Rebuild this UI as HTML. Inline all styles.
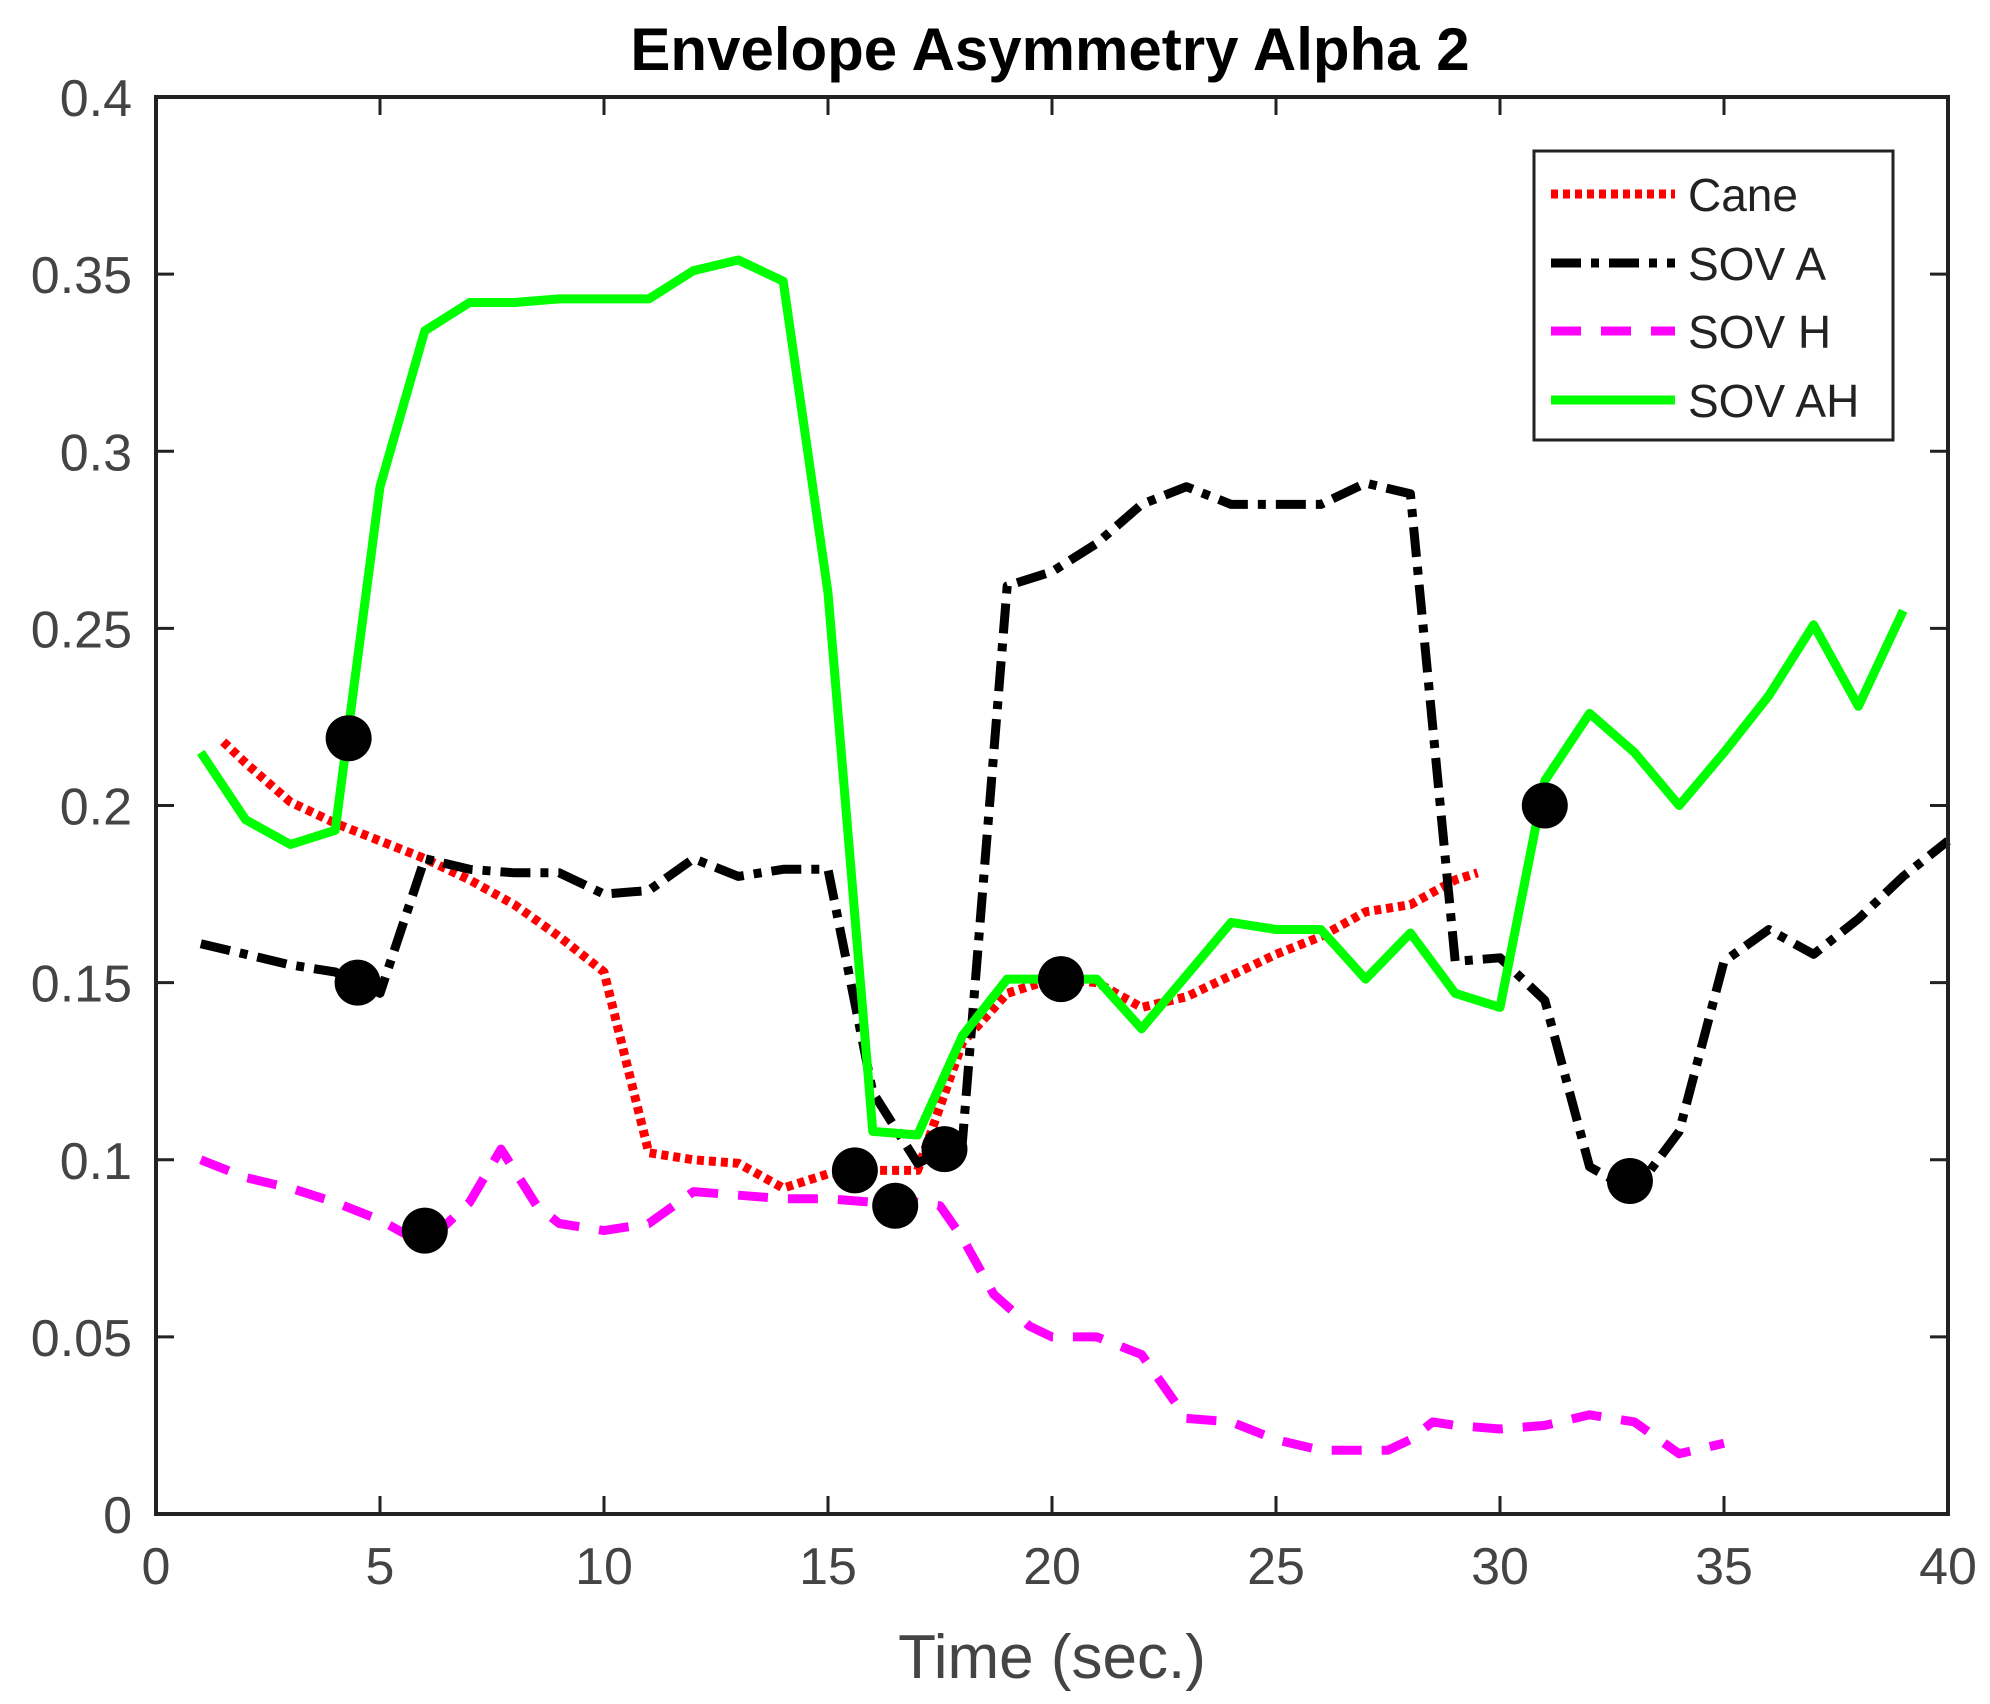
<!DOCTYPE html>
<html><head><meta charset="utf-8"><style>
body{margin:0;background:#fff;}
svg text{font-family:"Liberation Sans",Arial,sans-serif;}
</style></head><body>
<svg id="chart" width="1990" height="1699" xmlns="http://www.w3.org/2000/svg">
<rect width="1990" height="1699" fill="#fff"/>
<text x="1050" y="70" text-anchor="middle" font-size="60" font-weight="bold" fill="#000">Envelope Asymmetry Alpha 2</text>
<g id="axes"></g>
<g id="series"></g>
<g id="markers"></g>
<rect x="156" y="97" width="1792" height="1417" fill="none" stroke="#222" stroke-width="4"/>
<text x="1052" y="1678" text-anchor="middle" font-size="62" fill="#444">Time (sec.)</text>
<g>
<rect x="1534" y="151" width="359" height="289" fill="#fff" stroke="#222" stroke-width="3"/>
<g><line x1="1551" y1="194" x2="1675" y2="194" stroke="#f00" stroke-width="9" stroke-dasharray="7 5"/><text x="1688" y="211" font-size="46" fill="#222">Cane</text></g>
<g><line x1="1551" y1="263" x2="1675" y2="263" stroke="#000" stroke-width="9" stroke-dasharray="30 10 8 10"/><text x="1688" y="280" font-size="46" fill="#222">SOV A</text></g>
<g><line x1="1551" y1="331" x2="1675" y2="331" stroke="#f0f" stroke-width="9" stroke-dasharray="30 20"/><text x="1688" y="348" font-size="46" fill="#222">SOV H</text></g>
<g><line x1="1551" y1="400" x2="1675" y2="400" stroke="#0f0" stroke-width="9"/><text x="1688" y="417" font-size="46" fill="#222">SOV AH</text></g>
</g>
</svg>
<script>
const xTicks=[0,5,10,15,20,25,30,35,40];
const yTicks=[0,0.05,0.1,0.15,0.2,0.25,0.3,0.35,0.4];
const yTickLabels=["0","0.05","0.1","0.15","0.2","0.25","0.3","0.35","0.4"];
const caneX=[1.5,2,3,4,5,6,7,8,9,10,11,12,13,14,15,16,17,18,19,20,21,22,23,24,25,26,27,28,29,29.5];
const caneY=[0.218,0.212,0.201,0.195,0.19,0.185,0.179,0.172,0.163,0.153,0.102,0.1,0.099,0.092,0.096,0.097,0.097,0.133,0.147,0.151,0.15,0.143,0.146,0.152,0.158,0.163,0.17,0.172,0.179,0.181];
const sovAX=[1,2,3,4,5,6,7,8,9,10,11,12,13,14,15,16,17,18,19,20,21,22,23,24,25,26,27,28,29,30,31,32,33,34,35,36,37,38,39,40];
const sovAY=[0.161,0.158,0.155,0.153,0.147,0.185,0.182,0.181,0.181,0.175,0.176,0.185,0.18,0.182,0.182,0.119,0.099,0.105,0.262,0.266,0.274,0.285,0.29,0.285,0.285,0.285,0.291,0.288,0.156,0.157,0.145,0.098,0.091,0.108,0.156,0.165,0.158,0.168,0.18,0.19];
const sovHX=[1,2,3,4,5,6,7,7.7,8.5,9,10,11,12,13,14,15,16,17,17.5,18,18.7,19.5,20,21,22,23,24,25,26,27,27.5,28,28.5,29,30,31,32,33,34,35];
const sovHY=[0.1,0.095,0.092,0.088,0.083,0.076,0.088,0.103,0.087,0.082,0.08,0.082,0.091,0.09,0.089,0.089,0.088,0.088,0.087,0.078,0.062,0.053,0.05,0.05,0.045,0.027,0.026,0.021,0.018,0.018,0.018,0.021,0.026,0.025,0.024,0.025,0.028,0.026,0.017,0.02];
const sovAHX=[1,2,3,4,5,6,7,8,9,10,11,12,13,14,15,16,17,18,19,20,21,22,23,24,25,26,27,28,29,30,31,32,33,34,35,36,37,38,39];
const sovAHY=[0.215,0.196,0.189,0.193,0.29,0.334,0.342,0.342,0.343,0.343,0.343,0.351,0.354,0.348,0.26,0.108,0.107,0.135,0.151,0.151,0.151,0.137,0.152,0.167,0.165,0.165,0.151,0.164,0.147,0.143,0.207,0.226,0.215,0.2,0.215,0.231,0.251,0.228,0.255];
const markX=[4.3,4.5,6,15.6,16.5,17.6,20.2,31,32.9];
const markY=[0.219,0.15,0.08,0.097,0.087,0.103,0.151,0.2,0.094];

const L=156,R=1948,T=97,B=1514;
const sx=v=>L+(v-0)/(40-0)*(R-L);
const sy=v=>B-(v-0)/(0.4-0)*(B-T);
const NS="http://www.w3.org/2000/svg";
function mk(tag,attrs,parent){const e=document.createElementNS(NS,tag);for(const k in attrs)e.setAttribute(k,attrs[k]);parent.appendChild(e);return e;}
const axes=document.getElementById('axes');
xTicks.forEach(t=>{
  const g=mk('g',{},axes);
  
  
  mk('line',{x1:sx(t),x2:sx(t),y1:B,y2:B-18,stroke:'#222','stroke-width':3},g);
  mk('line',{x1:sx(t),x2:sx(t),y1:T,y2:T+18,stroke:'#222','stroke-width':3},g);
  const tx=mk('text',{x:sx(t),y:B+70,'text-anchor':'middle','font-size':52,fill:'#444'},g);tx.textContent=t;
});
yTicks.forEach((t,i)=>{
  const g=mk('g',{},axes);
  
  
  mk('line',{x1:L,x2:L+18,y1:sy(t),y2:sy(t),stroke:'#222','stroke-width':3},g);
  mk('line',{x1:R,x2:R-18,y1:sy(t),y2:sy(t),stroke:'#222','stroke-width':3},g);
  const tx=mk('text',{x:L-24,y:sy(t)+19,'text-anchor':'end','font-size':52,fill:'#444'},g);tx.textContent=yTickLabels[i];
});
const ser=document.getElementById('series');
function line(xs,ys,color,dash,name){
  const d=xs.map((x,i)=>(i?'L':'M')+sx(x).toFixed(1)+' '+sy(ys[i]).toFixed(1)).join(' ');
  const p=mk('path',{d:d,fill:'none',stroke:color,'stroke-width':9,'stroke-linejoin':'round'},ser);
  if(dash)p.setAttribute('stroke-dasharray',dash);
  
  
}
line(caneX,caneY,'#f00','7 5','cane-line');
line(sovAX,sovAY,'#000','30 10 8 10','sov-a-line');
line(sovHX,sovHY,'#f0f','30 20','sov-h-line');
line(sovAHX,sovAHY,'#0f0',null,'sov-ah-line');
const mg=document.getElementById('markers');
markX.forEach((x,i)=>{
  const c=mk('circle',{cx:sx(x),cy:sy(markY[i]),r:23,fill:'#000'},mg);
  
  
});
</script>
</body></html>
